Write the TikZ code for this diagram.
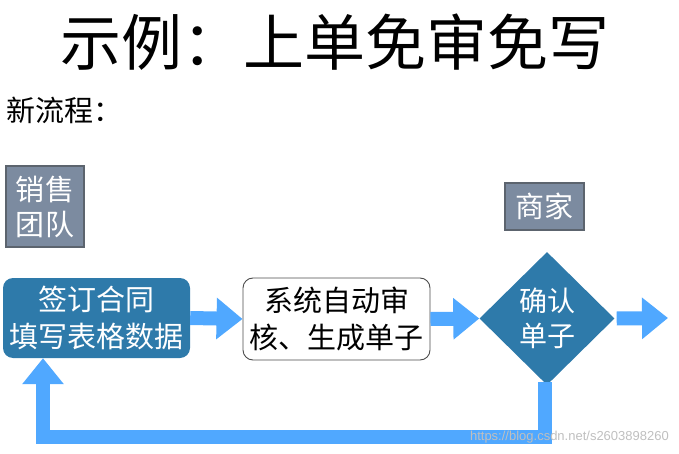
\documentclass[tikz,border=0pt]{standalone}
\usepackage{fontspec}
\setmainfont{Noto Sans CJK SC}
\newfontfamily\wmfont{Liberation Sans}
\usetikzlibrary{arrows.meta,shapes.geometric}
\definecolor{flowblue}{RGB}{46,122,170}
\definecolor{arrowblue}{RGB}{80,168,255}
\definecolor{rolegray}{RGB}{124,139,160}
\definecolor{roleedge}{RGB}{92,100,110}
\tikzset{
  role/.style={draw=roleedge, line width=1.2pt, fill=rolegray, text=white, inner sep=0pt, align=center, font=\fontsize{29}{35}\selectfont},
  bluebox/.style={fill=flowblue, rounded corners=10pt, text=white, inner sep=0pt, align=center, font=\fontsize{29}{37}\selectfont},
  whitebox/.style={draw=black!70, line width=0.9pt, fill=white, rounded corners=10pt, text=black, inner sep=0pt, align=center, font=\fontsize{29}{37}\selectfont},
  decide/.style={diamond, fill=flowblue, text=white, inner sep=0pt, align=center, font=\fontsize{28}{35}\selectfont},
  flowarrow/.style={draw=arrowblue, line width=14pt, line join=miter, -{Triangle[width=40pt,length=26pt]}},
}
\begin{document}
\begin{tikzpicture}[x=1pt,y=-1pt]
\useasboundingbox (0,0) rectangle (679,454);
\node[font=\fontsize{61}{63}\selectfont, inner sep=0pt] (title) at (335,42) {示例：上单免审免写};
\node[font=\fontsize{29}{31}\selectfont, inner sep=0pt, anchor=west] (sub) at (6,110) {新流程：};
\node[role, minimum width=78pt, minimum height=81pt] (sales) at (45,206.5) {销售\\团队};
\node[role, minimum width=79pt, minimum height=47pt] (merchant) at (544.5,206.5) {商家};
\node[bluebox, minimum width=187pt, minimum height=80pt] (sign) at (96.5,318) {签订合同\\填写表格数据};
\node[whitebox, minimum width=187pt, minimum height=82pt] (sys) at (336.5,319) {系统自动审\\核、生成单子};
\node[decide, minimum width=135pt, minimum height=133pt] (dia) at (547,318.5) {确认\\单子};
\coordinate (out) at (668,318);
\coordinate (fbcorner) at (43,437);
\draw[flowarrow] (sign.east) -- (sys.west);
\draw[flowarrow] (sys.east) -- (dia.west);
\draw[flowarrow] ([xshift=2pt]dia.east) -- (out);
\draw[flowarrow] ([yshift=3pt]dia.south -| 545,0) |- (fbcorner) -- (fbcorner |- sign.south);
\node[font=\wmfont\fontsize{13}{14}\selectfont, text=black!25, inner sep=0pt, anchor=east] (wm) at (669,437) {https://blog.csdn.net/s2603898260};
\end{tikzpicture}
\end{document}
